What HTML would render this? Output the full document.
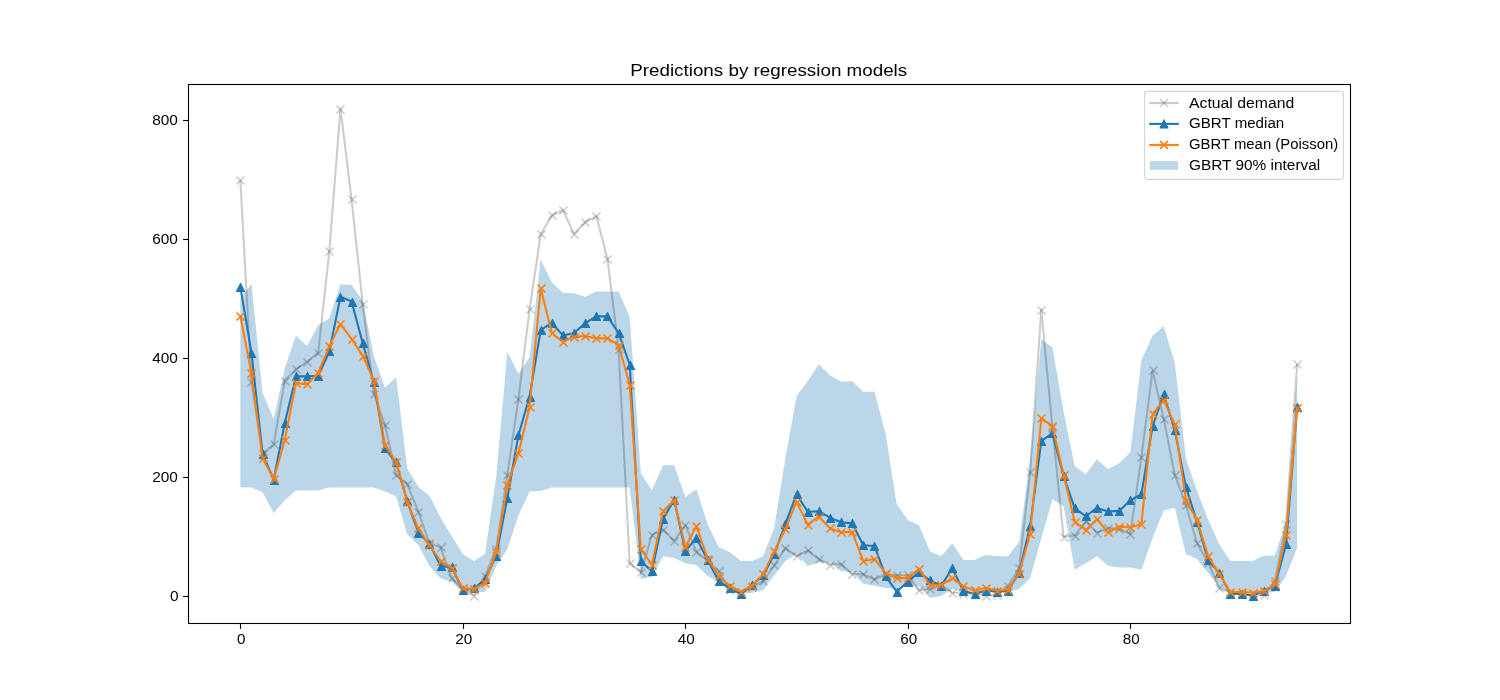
<!DOCTYPE html><html><head><meta charset="utf-8"><title>Predictions by regression models</title>
<style>html,body{margin:0;padding:0;background:#fff;}svg{display:block;will-change:transform;}text{font-family:"Liberation Sans",sans-serif;fill:#000;}</style></head><body>
<svg width="1500" height="700" viewBox="0 0 1500 700">
<rect x="0" y="0" width="1500" height="700" fill="#ffffff"/>
<defs>
<g id="mx"><path d="M-4.0,-4.0L4.0,4.0M-4.0,4.0L4.0,-4.0" fill="none" stroke-width="1.6" stroke-linecap="butt"/></g>
<g id="mt"><path d="M0,-4.0L4.0,4.0L-4.0,4.0Z" stroke-width="1.2" stroke-linejoin="round"/></g>
<clipPath id="cp"><rect x="188" y="84" width="1162" height="539.5"/></clipPath>
</defs>
<g clip-path="url(#cp)">
<polygon points="240.34,298.60 251.46,283.75 262.59,393.01 273.71,419.14 284.84,368.07 295.96,335.42 307.09,346.10 318.21,325.32 329.34,318.20 340.46,284.35 351.58,284.94 362.71,300.38 373.83,356.20 384.96,387.67 396.08,376.98 407.21,468.43 418.33,486.83 429.45,495.74 440.58,517.71 451.70,536.12 462.83,553.93 473.95,561.06 485.08,553.93 496.20,476.74 507.33,352.04 518.45,374.01 529.57,357.39 540.70,259.41 551.82,282.57 562.95,292.66 574.07,293.26 585.20,296.82 596.32,291.47 607.45,291.47 618.57,291.47 629.69,317.01 640.82,473.18 651.94,490.16 663.07,465.16 674.19,465.16 685.32,497.11 696.44,489.21 707.56,524.24 718.69,547.11 729.81,552.15 740.94,561.06 752.06,561.06 763.19,556.13 774.31,527.21 785.44,457.74 796.56,396.16 807.68,381.14 818.81,363.92 829.93,375.20 841.06,381.73 852.18,381.14 863.31,391.83 874.43,391.83 885.56,433.39 896.68,504.05 907.80,520.09 918.93,525.13 930.05,551.14 941.18,556.13 952.30,543.25 963.43,560.11 974.55,560.11 985.67,555.12 996.80,556.13 1007.92,556.13 1019.05,542.06 1030.17,460.11 1041.30,339.22 1052.42,347.59 1063.55,411.42 1074.67,466.17 1085.79,474.13 1096.92,459.16 1108.04,469.14 1119.17,463.14 1130.29,452.57 1141.42,360.18 1152.54,335.77 1163.67,326.21 1174.79,362.55 1185.91,458.33 1197.04,491.11 1208.16,519.49 1219.29,544.43 1230.41,561.06 1241.54,561.06 1252.66,561.06 1263.78,555.72 1274.91,555.72 1286.03,521.27 1297.16,375.79 1297.16,548.11 1286.03,576.08 1274.91,592.12 1263.78,593.12 1252.66,593.12 1241.54,593.12 1230.41,593.12 1219.29,587.19 1208.16,572.94 1197.04,559.10 1185.91,554.23 1174.79,507.74 1163.67,510.59 1152.54,538.14 1141.42,569.73 1130.29,567.59 1119.17,567.59 1108.04,565.69 1096.92,556.13 1085.79,563.14 1074.67,569.73 1063.55,506.13 1052.42,499.13 1041.30,538.14 1030.17,578.10 1019.05,589.09 1007.92,592.12 996.80,592.53 985.67,592.53 974.55,594.31 963.43,591.94 952.30,589.09 941.18,596.09 930.05,598.11 918.93,586.12 907.80,586.12 896.68,589.09 885.56,588.08 874.43,585.70 863.31,583.68 852.18,572.10 841.06,571.15 829.93,562.25 818.81,562.13 807.68,566.11 796.56,554.11 785.44,561.06 774.31,575.13 763.19,589.68 752.06,593.12 740.94,594.07 729.81,591.11 718.69,582.08 707.56,576.08 696.44,565.22 685.32,563.14 674.19,558.09 663.07,556.13 651.94,577.09 640.82,579.11 629.69,487.43 618.57,487.43 607.45,487.43 596.32,487.43 585.20,487.43 574.07,487.43 562.95,487.43 551.82,487.43 540.70,490.99 529.57,491.59 518.45,515.34 507.33,549.18 496.20,566.11 485.08,591.94 473.95,591.94 462.83,591.94 451.70,581.84 440.58,578.28 429.45,566.11 418.33,545.03 407.21,534.34 396.08,496.34 384.96,491.59 373.83,487.43 362.71,487.43 351.58,487.43 340.46,487.43 329.34,487.43 318.21,490.40 307.09,490.40 295.96,490.40 284.84,499.90 273.71,512.96 262.59,492.18 251.46,487.43 240.34,487.13" fill="#1f77b4" fill-opacity="0.3" stroke="none"/>
<g opacity="0.2"><polyline points="240.34,179.84 251.46,382.33 262.59,454.18 273.71,444.08 284.84,380.54 295.96,369.26 307.09,361.54 318.21,352.64 329.34,251.10 340.46,108.58 351.58,199.44 362.71,303.94 373.83,393.61 384.96,425.08 396.08,474.96 407.21,483.87 418.33,511.77 429.45,543.25 440.58,547.40 451.70,578.28 462.83,589.56 473.95,595.50 485.08,575.90 496.20,549.18 507.33,474.96 518.45,398.95 529.57,309.29 540.70,234.47 551.82,215.47 562.95,210.12 574.07,233.88 585.20,222.00 596.32,216.06 607.45,258.82 618.57,349.07 629.69,563.14 640.82,572.34 651.94,534.93 663.07,529.59 674.19,540.87 685.32,525.43 696.44,551.56 707.56,561.06 718.69,571.15 729.81,590.16 740.94,591.94 752.06,587.19 763.19,581.25 774.31,565.22 785.44,548.00 796.56,556.31 807.68,550.37 818.81,559.28 829.93,564.62 841.06,564.03 852.18,574.12 863.31,574.12 874.43,579.47 885.56,574.12 896.68,575.31 907.80,575.31 918.93,590.16 930.05,588.97 941.18,585.41 952.30,592.53 963.43,593.72 974.55,593.12 985.67,595.50 996.80,594.91 1007.92,586.00 1019.05,568.19 1030.17,471.99 1041.30,309.59 1052.42,428.05 1063.55,536.71 1074.67,535.53 1085.79,521.27 1096.92,532.56 1108.04,528.10 1119.17,528.99 1130.29,534.10 1141.42,457.14 1152.54,370.45 1163.67,418.55 1174.79,474.96 1185.91,505.24 1197.04,543.25 1208.16,562.84 1219.29,588.08 1230.41,592.53 1241.54,593.72 1252.66,595.50 1263.78,594.91 1274.91,581.25 1286.03,524.24 1297.16,363.92" fill="none" stroke="#000" stroke-width="2.08" stroke-linejoin="round" stroke-linecap="butt"/></g>
<g stroke="#000" stroke-opacity="0.2">
<use href="#mx" x="240.5" y="180.5"/>
<use href="#mx" x="251.5" y="382.5"/>
<use href="#mx" x="263.5" y="454.5"/>
<use href="#mx" x="274.5" y="444.5"/>
<use href="#mx" x="285.5" y="381.5"/>
<use href="#mx" x="296.5" y="369.5"/>
<use href="#mx" x="307.5" y="362.5"/>
<use href="#mx" x="318.5" y="353.5"/>
<use href="#mx" x="329.5" y="251.5"/>
<use href="#mx" x="340.5" y="109.5"/>
<use href="#mx" x="352.5" y="199.5"/>
<use href="#mx" x="363.5" y="304.5"/>
<use href="#mx" x="374.5" y="394.5"/>
<use href="#mx" x="385.5" y="425.5"/>
<use href="#mx" x="396.5" y="475.5"/>
<use href="#mx" x="407.5" y="484.5"/>
<use href="#mx" x="418.5" y="512.5"/>
<use href="#mx" x="429.5" y="543.5"/>
<use href="#mx" x="441.5" y="547.5"/>
<use href="#mx" x="452.5" y="578.5"/>
<use href="#mx" x="463.5" y="590.5"/>
<use href="#mx" x="474.5" y="596.5"/>
<use href="#mx" x="485.5" y="576.5"/>
<use href="#mx" x="496.5" y="549.5"/>
<use href="#mx" x="507.5" y="475.5"/>
<use href="#mx" x="518.5" y="399.5"/>
<use href="#mx" x="530.5" y="309.5"/>
<use href="#mx" x="541.5" y="234.5"/>
<use href="#mx" x="552.5" y="215.5"/>
<use href="#mx" x="563.5" y="210.5"/>
<use href="#mx" x="574.5" y="234.5"/>
<use href="#mx" x="585.5" y="222.5"/>
<use href="#mx" x="596.5" y="216.5"/>
<use href="#mx" x="607.5" y="259.5"/>
<use href="#mx" x="619.5" y="349.5"/>
<use href="#mx" x="630.5" y="563.5"/>
<use href="#mx" x="641.5" y="572.5"/>
<use href="#mx" x="652.5" y="535.5"/>
<use href="#mx" x="663.5" y="530.5"/>
<use href="#mx" x="674.5" y="541.5"/>
<use href="#mx" x="685.5" y="525.5"/>
<use href="#mx" x="696.5" y="552.5"/>
<use href="#mx" x="708.5" y="561.5"/>
<use href="#mx" x="719.5" y="571.5"/>
<use href="#mx" x="730.5" y="590.5"/>
<use href="#mx" x="741.5" y="592.5"/>
<use href="#mx" x="752.5" y="587.5"/>
<use href="#mx" x="763.5" y="581.5"/>
<use href="#mx" x="774.5" y="565.5"/>
<use href="#mx" x="785.5" y="548.5"/>
<use href="#mx" x="797.5" y="556.5"/>
<use href="#mx" x="808.5" y="550.5"/>
<use href="#mx" x="819.5" y="559.5"/>
<use href="#mx" x="830.5" y="565.5"/>
<use href="#mx" x="841.5" y="564.5"/>
<use href="#mx" x="852.5" y="574.5"/>
<use href="#mx" x="863.5" y="574.5"/>
<use href="#mx" x="874.5" y="579.5"/>
<use href="#mx" x="886.5" y="574.5"/>
<use href="#mx" x="897.5" y="575.5"/>
<use href="#mx" x="908.5" y="575.5"/>
<use href="#mx" x="919.5" y="590.5"/>
<use href="#mx" x="930.5" y="589.5"/>
<use href="#mx" x="941.5" y="585.5"/>
<use href="#mx" x="952.5" y="593.5"/>
<use href="#mx" x="963.5" y="594.5"/>
<use href="#mx" x="975.5" y="593.5"/>
<use href="#mx" x="986.5" y="596.5"/>
<use href="#mx" x="997.5" y="595.5"/>
<use href="#mx" x="1008.5" y="586.5"/>
<use href="#mx" x="1019.5" y="568.5"/>
<use href="#mx" x="1030.5" y="472.5"/>
<use href="#mx" x="1041.5" y="310.5"/>
<use href="#mx" x="1052.5" y="428.5"/>
<use href="#mx" x="1064.5" y="537.5"/>
<use href="#mx" x="1075.5" y="536.5"/>
<use href="#mx" x="1086.5" y="521.5"/>
<use href="#mx" x="1097.5" y="533.5"/>
<use href="#mx" x="1108.5" y="528.5"/>
<use href="#mx" x="1119.5" y="529.5"/>
<use href="#mx" x="1130.5" y="534.5"/>
<use href="#mx" x="1141.5" y="457.5"/>
<use href="#mx" x="1153.5" y="370.5"/>
<use href="#mx" x="1164.5" y="419.5"/>
<use href="#mx" x="1175.5" y="475.5"/>
<use href="#mx" x="1186.5" y="505.5"/>
<use href="#mx" x="1197.5" y="543.5"/>
<use href="#mx" x="1208.5" y="563.5"/>
<use href="#mx" x="1219.5" y="588.5"/>
<use href="#mx" x="1230.5" y="593.5"/>
<use href="#mx" x="1242.5" y="594.5"/>
<use href="#mx" x="1253.5" y="596.5"/>
<use href="#mx" x="1264.5" y="595.5"/>
<use href="#mx" x="1275.5" y="581.5"/>
<use href="#mx" x="1286.5" y="524.5"/>
<use href="#mx" x="1297.5" y="364.5"/>
</g>
<polyline points="240.34,286.72 251.46,352.64 262.59,454.18 273.71,479.71 284.84,422.70 295.96,376.39 307.09,376.39 318.21,375.79 329.34,351.45 340.46,296.82 351.58,301.57 362.71,343.13 373.83,382.33 384.96,448.24 396.08,462.49 407.21,501.09 418.33,532.56 429.45,543.84 440.58,566.11 451.70,567.00 462.83,590.16 473.95,588.37 485.08,579.47 496.20,555.72 507.33,498.12 518.45,435.17 529.57,396.58 540.70,330.07 551.82,322.95 562.95,335.42 574.07,333.04 585.20,323.18 596.32,316.41 607.45,316.41 618.57,333.04 629.69,364.51 640.82,561.06 651.94,571.15 663.07,518.90 674.19,499.90 685.32,551.14 696.44,537.90 707.56,560.11 718.69,581.13 729.81,588.49 740.94,594.07 752.06,585.11 763.19,575.49 774.31,554.11 785.44,523.71 796.56,494.26 807.68,511.77 818.81,511.18 829.93,517.71 841.06,522.17 852.18,523.35 863.31,545.32 874.43,545.92 885.56,576.08 896.68,591.70 907.80,581.72 918.93,572.10 930.05,580.48 941.18,585.70 952.30,568.19 963.43,591.11 974.55,594.07 985.67,590.51 996.80,591.52 1007.92,591.11 1019.05,573.11 1030.17,525.73 1041.30,441.11 1052.42,433.16 1063.55,476.15 1074.67,508.21 1085.79,516.23 1096.92,507.91 1108.04,511.48 1119.17,510.88 1130.29,500.49 1141.42,494.14 1152.54,426.27 1163.67,394.20 1174.79,430.13 1185.91,487.13 1197.04,521.87 1208.16,560.11 1219.29,572.94 1230.41,593.72 1241.54,594.07 1252.66,595.50 1263.78,591.11 1274.91,585.70 1286.03,544.43 1297.16,406.91" fill="none" stroke="#1f77b4" stroke-width="2.08" stroke-linejoin="round"/>
<g stroke="#1f77b4" fill="#1f77b4">
<use href="#mt" x="240.5" y="287.5"/>
<use href="#mt" x="251.5" y="353.5"/>
<use href="#mt" x="263.5" y="454.5"/>
<use href="#mt" x="274.5" y="480.5"/>
<use href="#mt" x="285.5" y="423.5"/>
<use href="#mt" x="296.5" y="376.5"/>
<use href="#mt" x="307.5" y="376.5"/>
<use href="#mt" x="318.5" y="376.5"/>
<use href="#mt" x="329.5" y="351.5"/>
<use href="#mt" x="340.5" y="297.5"/>
<use href="#mt" x="352.5" y="302.5"/>
<use href="#mt" x="363.5" y="343.5"/>
<use href="#mt" x="374.5" y="382.5"/>
<use href="#mt" x="385.5" y="448.5"/>
<use href="#mt" x="396.5" y="462.5"/>
<use href="#mt" x="407.5" y="501.5"/>
<use href="#mt" x="418.5" y="533.5"/>
<use href="#mt" x="429.5" y="544.5"/>
<use href="#mt" x="441.5" y="566.5"/>
<use href="#mt" x="452.5" y="567.5"/>
<use href="#mt" x="463.5" y="590.5"/>
<use href="#mt" x="474.5" y="588.5"/>
<use href="#mt" x="485.5" y="579.5"/>
<use href="#mt" x="496.5" y="556.5"/>
<use href="#mt" x="507.5" y="498.5"/>
<use href="#mt" x="518.5" y="435.5"/>
<use href="#mt" x="530.5" y="397.5"/>
<use href="#mt" x="541.5" y="330.5"/>
<use href="#mt" x="552.5" y="323.5"/>
<use href="#mt" x="563.5" y="335.5"/>
<use href="#mt" x="574.5" y="333.5"/>
<use href="#mt" x="585.5" y="323.5"/>
<use href="#mt" x="596.5" y="316.5"/>
<use href="#mt" x="607.5" y="316.5"/>
<use href="#mt" x="619.5" y="333.5"/>
<use href="#mt" x="630.5" y="365.5"/>
<use href="#mt" x="641.5" y="561.5"/>
<use href="#mt" x="652.5" y="571.5"/>
<use href="#mt" x="663.5" y="519.5"/>
<use href="#mt" x="674.5" y="500.5"/>
<use href="#mt" x="685.5" y="551.5"/>
<use href="#mt" x="696.5" y="538.5"/>
<use href="#mt" x="708.5" y="560.5"/>
<use href="#mt" x="719.5" y="581.5"/>
<use href="#mt" x="730.5" y="588.5"/>
<use href="#mt" x="741.5" y="594.5"/>
<use href="#mt" x="752.5" y="585.5"/>
<use href="#mt" x="763.5" y="575.5"/>
<use href="#mt" x="774.5" y="554.5"/>
<use href="#mt" x="785.5" y="524.5"/>
<use href="#mt" x="797.5" y="494.5"/>
<use href="#mt" x="808.5" y="512.5"/>
<use href="#mt" x="819.5" y="511.5"/>
<use href="#mt" x="830.5" y="518.5"/>
<use href="#mt" x="841.5" y="522.5"/>
<use href="#mt" x="852.5" y="523.5"/>
<use href="#mt" x="863.5" y="545.5"/>
<use href="#mt" x="874.5" y="546.5"/>
<use href="#mt" x="886.5" y="576.5"/>
<use href="#mt" x="897.5" y="592.5"/>
<use href="#mt" x="908.5" y="582.5"/>
<use href="#mt" x="919.5" y="572.5"/>
<use href="#mt" x="930.5" y="580.5"/>
<use href="#mt" x="941.5" y="586.5"/>
<use href="#mt" x="952.5" y="568.5"/>
<use href="#mt" x="963.5" y="591.5"/>
<use href="#mt" x="975.5" y="594.5"/>
<use href="#mt" x="986.5" y="591.5"/>
<use href="#mt" x="997.5" y="592.5"/>
<use href="#mt" x="1008.5" y="591.5"/>
<use href="#mt" x="1019.5" y="573.5"/>
<use href="#mt" x="1030.5" y="526.5"/>
<use href="#mt" x="1041.5" y="441.5"/>
<use href="#mt" x="1052.5" y="433.5"/>
<use href="#mt" x="1064.5" y="476.5"/>
<use href="#mt" x="1075.5" y="508.5"/>
<use href="#mt" x="1086.5" y="516.5"/>
<use href="#mt" x="1097.5" y="508.5"/>
<use href="#mt" x="1108.5" y="511.5"/>
<use href="#mt" x="1119.5" y="511.5"/>
<use href="#mt" x="1130.5" y="500.5"/>
<use href="#mt" x="1141.5" y="494.5"/>
<use href="#mt" x="1153.5" y="426.5"/>
<use href="#mt" x="1164.5" y="394.5"/>
<use href="#mt" x="1175.5" y="430.5"/>
<use href="#mt" x="1186.5" y="487.5"/>
<use href="#mt" x="1197.5" y="522.5"/>
<use href="#mt" x="1208.5" y="560.5"/>
<use href="#mt" x="1219.5" y="573.5"/>
<use href="#mt" x="1230.5" y="594.5"/>
<use href="#mt" x="1242.5" y="594.5"/>
<use href="#mt" x="1253.5" y="596.5"/>
<use href="#mt" x="1264.5" y="591.5"/>
<use href="#mt" x="1275.5" y="586.5"/>
<use href="#mt" x="1286.5" y="544.5"/>
<use href="#mt" x="1297.5" y="407.5"/>
</g>
<polyline points="240.34,315.82 251.46,373.42 262.59,458.33 273.71,479.12 284.84,439.92 295.96,383.22 307.09,384.11 318.21,372.82 329.34,346.10 340.46,324.13 351.58,338.98 362.71,355.60 373.83,380.54 384.96,445.27 396.08,461.89 407.21,501.98 418.33,528.40 429.45,545.03 440.58,561.06 451.70,567.59 462.83,588.37 473.95,588.97 485.08,583.03 496.20,551.56 507.33,485.05 518.45,452.99 529.57,407.27 540.70,288.21 551.82,333.04 562.95,341.95 574.07,336.60 585.20,336.01 596.32,338.38 607.45,338.38 618.57,345.21 629.69,384.70 640.82,549.18 651.94,564.62 663.07,511.18 674.19,500.14 685.32,546.81 696.44,526.14 707.56,558.51 718.69,576.08 729.81,586.12 740.94,591.52 752.06,585.52 763.19,574.12 774.31,551.14 785.44,529.11 796.56,501.68 807.68,524.54 818.81,516.52 829.93,528.40 841.06,532.14 852.18,532.14 863.31,561.06 874.43,559.10 885.56,573.11 896.68,578.10 907.80,578.10 918.93,568.78 930.05,585.11 941.18,585.11 952.30,578.10 963.43,586.12 974.55,590.16 985.67,588.08 996.80,590.51 1007.92,589.68 1019.05,573.53 1030.17,533.74 1041.30,418.13 1052.42,426.27 1063.55,474.54 1074.67,521.57 1085.79,530.18 1096.92,519.14 1108.04,532.26 1119.17,526.62 1130.29,527.21 1141.42,524.24 1152.54,414.15 1163.67,400.14 1174.79,424.49 1185.91,500.14 1197.04,520.09 1208.16,556.13 1219.29,574.12 1230.41,591.94 1241.54,592.12 1252.66,592.53 1263.78,591.11 1274.91,584.10 1286.03,534.52 1297.16,407.56" fill="none" stroke="#ff7f0e" stroke-width="2.08" stroke-linejoin="round"/>
<g stroke="#ff7f0e">
<use href="#mx" x="240.5" y="316.5"/>
<use href="#mx" x="251.5" y="373.5"/>
<use href="#mx" x="263.5" y="458.5"/>
<use href="#mx" x="274.5" y="479.5"/>
<use href="#mx" x="285.5" y="440.5"/>
<use href="#mx" x="296.5" y="383.5"/>
<use href="#mx" x="307.5" y="384.5"/>
<use href="#mx" x="318.5" y="373.5"/>
<use href="#mx" x="329.5" y="346.5"/>
<use href="#mx" x="340.5" y="324.5"/>
<use href="#mx" x="352.5" y="339.5"/>
<use href="#mx" x="363.5" y="356.5"/>
<use href="#mx" x="374.5" y="381.5"/>
<use href="#mx" x="385.5" y="445.5"/>
<use href="#mx" x="396.5" y="462.5"/>
<use href="#mx" x="407.5" y="502.5"/>
<use href="#mx" x="418.5" y="528.5"/>
<use href="#mx" x="429.5" y="545.5"/>
<use href="#mx" x="441.5" y="561.5"/>
<use href="#mx" x="452.5" y="568.5"/>
<use href="#mx" x="463.5" y="588.5"/>
<use href="#mx" x="474.5" y="589.5"/>
<use href="#mx" x="485.5" y="583.5"/>
<use href="#mx" x="496.5" y="552.5"/>
<use href="#mx" x="507.5" y="485.5"/>
<use href="#mx" x="518.5" y="453.5"/>
<use href="#mx" x="530.5" y="407.5"/>
<use href="#mx" x="541.5" y="288.5"/>
<use href="#mx" x="552.5" y="333.5"/>
<use href="#mx" x="563.5" y="342.5"/>
<use href="#mx" x="574.5" y="337.5"/>
<use href="#mx" x="585.5" y="336.5"/>
<use href="#mx" x="596.5" y="338.5"/>
<use href="#mx" x="607.5" y="338.5"/>
<use href="#mx" x="619.5" y="345.5"/>
<use href="#mx" x="630.5" y="385.5"/>
<use href="#mx" x="641.5" y="549.5"/>
<use href="#mx" x="652.5" y="565.5"/>
<use href="#mx" x="663.5" y="511.5"/>
<use href="#mx" x="674.5" y="500.5"/>
<use href="#mx" x="685.5" y="547.5"/>
<use href="#mx" x="696.5" y="526.5"/>
<use href="#mx" x="708.5" y="559.5"/>
<use href="#mx" x="719.5" y="576.5"/>
<use href="#mx" x="730.5" y="586.5"/>
<use href="#mx" x="741.5" y="592.5"/>
<use href="#mx" x="752.5" y="586.5"/>
<use href="#mx" x="763.5" y="574.5"/>
<use href="#mx" x="774.5" y="551.5"/>
<use href="#mx" x="785.5" y="529.5"/>
<use href="#mx" x="797.5" y="502.5"/>
<use href="#mx" x="808.5" y="525.5"/>
<use href="#mx" x="819.5" y="517.5"/>
<use href="#mx" x="830.5" y="528.5"/>
<use href="#mx" x="841.5" y="532.5"/>
<use href="#mx" x="852.5" y="532.5"/>
<use href="#mx" x="863.5" y="561.5"/>
<use href="#mx" x="874.5" y="559.5"/>
<use href="#mx" x="886.5" y="573.5"/>
<use href="#mx" x="897.5" y="578.5"/>
<use href="#mx" x="908.5" y="578.5"/>
<use href="#mx" x="919.5" y="569.5"/>
<use href="#mx" x="930.5" y="585.5"/>
<use href="#mx" x="941.5" y="585.5"/>
<use href="#mx" x="952.5" y="578.5"/>
<use href="#mx" x="963.5" y="586.5"/>
<use href="#mx" x="975.5" y="590.5"/>
<use href="#mx" x="986.5" y="588.5"/>
<use href="#mx" x="997.5" y="591.5"/>
<use href="#mx" x="1008.5" y="590.5"/>
<use href="#mx" x="1019.5" y="574.5"/>
<use href="#mx" x="1030.5" y="534.5"/>
<use href="#mx" x="1041.5" y="418.5"/>
<use href="#mx" x="1052.5" y="426.5"/>
<use href="#mx" x="1064.5" y="475.5"/>
<use href="#mx" x="1075.5" y="522.5"/>
<use href="#mx" x="1086.5" y="530.5"/>
<use href="#mx" x="1097.5" y="519.5"/>
<use href="#mx" x="1108.5" y="532.5"/>
<use href="#mx" x="1119.5" y="527.5"/>
<use href="#mx" x="1130.5" y="527.5"/>
<use href="#mx" x="1141.5" y="524.5"/>
<use href="#mx" x="1153.5" y="414.5"/>
<use href="#mx" x="1164.5" y="400.5"/>
<use href="#mx" x="1175.5" y="424.5"/>
<use href="#mx" x="1186.5" y="500.5"/>
<use href="#mx" x="1197.5" y="520.5"/>
<use href="#mx" x="1208.5" y="556.5"/>
<use href="#mx" x="1219.5" y="574.5"/>
<use href="#mx" x="1230.5" y="592.5"/>
<use href="#mx" x="1242.5" y="592.5"/>
<use href="#mx" x="1253.5" y="593.5"/>
<use href="#mx" x="1264.5" y="591.5"/>
<use href="#mx" x="1275.5" y="584.5"/>
<use href="#mx" x="1286.5" y="535.5"/>
<use href="#mx" x="1297.5" y="408.5"/>
</g>
</g>
<rect x="188.5" y="84.5" width="1162" height="539" fill="none" stroke="#000" stroke-width="1.1"/>
<line x1="240.50" y1="624" x2="240.50" y2="628.9" stroke="#000" stroke-width="1.1"/>
<text x="241.24" y="644.2" font-size="14" text-anchor="middle" textLength="8.5" lengthAdjust="spacingAndGlyphs">0</text>
<line x1="463.50" y1="624" x2="463.50" y2="628.9" stroke="#000" stroke-width="1.1"/>
<text x="463.73" y="644.2" font-size="14" text-anchor="middle" textLength="17.0" lengthAdjust="spacingAndGlyphs">20</text>
<line x1="685.50" y1="624" x2="685.50" y2="628.9" stroke="#000" stroke-width="1.1"/>
<text x="686.22" y="644.2" font-size="14" text-anchor="middle" textLength="17.0" lengthAdjust="spacingAndGlyphs">40</text>
<line x1="908.50" y1="624" x2="908.50" y2="628.9" stroke="#000" stroke-width="1.1"/>
<text x="908.70" y="644.2" font-size="14" text-anchor="middle" textLength="17.0" lengthAdjust="spacingAndGlyphs">60</text>
<line x1="1130.50" y1="624" x2="1130.50" y2="628.9" stroke="#000" stroke-width="1.1"/>
<text x="1131.19" y="644.2" font-size="14" text-anchor="middle" textLength="17.0" lengthAdjust="spacingAndGlyphs">80</text>
<line x1="183.1" y1="596.50" x2="188" y2="596.50" stroke="#000" stroke-width="1.1"/>
<text x="178.6" y="601.35" font-size="14" text-anchor="end" textLength="8.6" lengthAdjust="spacingAndGlyphs">0</text>
<line x1="183.1" y1="477.50" x2="188" y2="477.50" stroke="#000" stroke-width="1.1"/>
<text x="177.9" y="481.59" font-size="14" text-anchor="end" textLength="25.7" lengthAdjust="spacingAndGlyphs">200</text>
<line x1="183.1" y1="358.50" x2="188" y2="358.50" stroke="#000" stroke-width="1.1"/>
<text x="177.9" y="362.83" font-size="14" text-anchor="end" textLength="25.7" lengthAdjust="spacingAndGlyphs">400</text>
<line x1="183.1" y1="239.50" x2="188" y2="239.50" stroke="#000" stroke-width="1.1"/>
<text x="177.9" y="244.07" font-size="14" text-anchor="end" textLength="25.7" lengthAdjust="spacingAndGlyphs">600</text>
<line x1="183.1" y1="120.50" x2="188" y2="120.50" stroke="#000" stroke-width="1.1"/>
<text x="177.9" y="125.31" font-size="14" text-anchor="end" textLength="25.7" lengthAdjust="spacingAndGlyphs">800</text>
<text x="768.7" y="75.7" font-size="16.8" text-anchor="middle" textLength="277" lengthAdjust="spacingAndGlyphs">Predictions by regression models</text>
<rect x="1144.6" y="91.4" width="198.9" height="88" rx="2.8" ry="2.8" fill="#fff" fill-opacity="0.8" stroke="#cccccc" stroke-opacity="0.8" stroke-width="1.1"/>
<g opacity="0.2"><line x1="1149.2" y1="103" x2="1178.8" y2="103" stroke="#000" stroke-width="2.08"/></g>
<g stroke="#000" stroke-opacity="0.2"><use href="#mx" x="1164.0" y="103"/></g>
<line x1="1149.2" y1="123.9" x2="1178.8" y2="123.9" stroke="#1f77b4" stroke-width="2.08"/>
<g stroke="#1f77b4" fill="#1f77b4"><use href="#mt" x="1164.0" y="123.9"/></g>
<line x1="1149.2" y1="144.9" x2="1178.8" y2="144.9" stroke="#ff7f0e" stroke-width="2.08"/>
<g stroke="#ff7f0e"><use href="#mx" x="1164.0" y="144.9"/></g>
<rect x="1150" y="161.1" width="28" height="8.8" fill="#1f77b4" fill-opacity="0.3"/>
<text x="1189.0" y="107.8" font-size="14" textLength="105.3" lengthAdjust="spacingAndGlyphs">Actual demand</text>
<text x="1189.0" y="128.4" font-size="14" textLength="95.2" lengthAdjust="spacingAndGlyphs">GBRT median</text>
<text x="1189.0" y="149.2" font-size="14" textLength="149.2" lengthAdjust="spacingAndGlyphs">GBRT mean (Poisson)</text>
<text x="1189.0" y="169.9" font-size="14" textLength="131.2" lengthAdjust="spacingAndGlyphs">GBRT 90% interval</text>
</svg></body></html>
